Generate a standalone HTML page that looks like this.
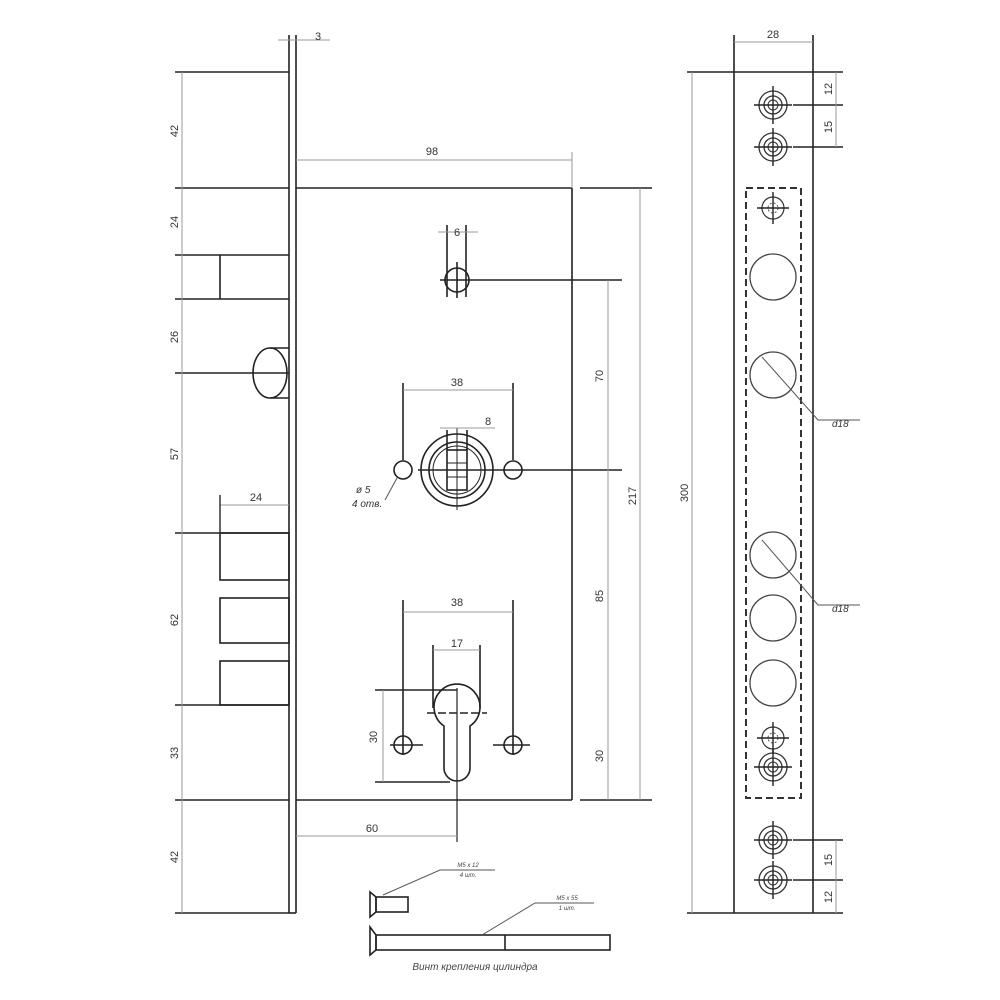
<!DOCTYPE html>
<html><head><meta charset="utf-8"><style>html,body{margin:0;padding:0;background:#fff}svg{display:block}</style></head>
<body>
<svg width="1000" height="1000" viewBox="0 0 1000 1000" xmlns="http://www.w3.org/2000/svg" font-family="Liberation Sans, sans-serif">
<defs>
<g id="cc"><circle r="14" fill="none" stroke="#333" stroke-width="1.3"/><circle r="9" fill="none" stroke="#333" stroke-width="1.3"/><circle r="5" fill="none" stroke="#333" stroke-width="1"/><line x1="-19" y1="0" x2="19" y2="0" stroke="#222" stroke-width="1.4"/><line x1="0" y1="-19" x2="0" y2="19" stroke="#222" stroke-width="1.4"/></g>
<g id="tx"><circle r="11" fill="none" stroke="#333" stroke-width="1.2"/><circle r="5" fill="none" stroke="#555" stroke-width="1" stroke-dasharray="2 2"/><line x1="-16" y1="0" x2="16" y2="0" stroke="#222" stroke-width="1.4"/><line x1="0" y1="-16" x2="0" y2="16" stroke="#222" stroke-width="1.4"/></g>
</defs>
<g stroke="#222" stroke-width="1.6" fill="none">
<line x1="289" y1="35" x2="289" y2="913"/><line x1="296" y1="35" x2="296" y2="913"/>
<line x1="289" y1="913" x2="296" y2="913"/>
<line x1="296" y1="188" x2="572" y2="188"/><line x1="580" y1="188" x2="652" y2="188"/>
<line x1="572" y1="188" x2="572" y2="800"/>
<line x1="296" y1="800" x2="572" y2="800"/><line x1="580" y1="800" x2="652" y2="800"/>
<line x1="175" y1="72" x2="289" y2="72"/>
<line x1="175" y1="188" x2="289" y2="188"/>
<line x1="175" y1="255" x2="289" y2="255"/>
<line x1="175" y1="299" x2="289" y2="299"/>
<line x1="175" y1="373" x2="289" y2="373"/>
<line x1="175" y1="533" x2="289" y2="533"/>
<line x1="175" y1="705" x2="289" y2="705"/>
<line x1="175" y1="800" x2="289" y2="800"/>
<line x1="175" y1="913" x2="289" y2="913"/>
<line x1="220" y1="255" x2="220" y2="299"/>
<ellipse cx="270" cy="373" rx="17" ry="25"/>
<line x1="270" y1="348" x2="289" y2="348"/><line x1="270" y1="398" x2="289" y2="398"/>
<rect x="220" y="533" width="69" height="47"/>
<rect x="220" y="598" width="69" height="45"/>
<rect x="220" y="661" width="69" height="44"/>
<circle cx="457" cy="280" r="12"/>
<line x1="447" y1="225" x2="447" y2="297"/><line x1="466" y1="225" x2="466" y2="297"/>
<line x1="440" y1="280" x2="622" y2="280"/><line x1="457" y1="262" x2="457" y2="298"/>
<circle cx="457" cy="470" r="36"/><circle cx="457" cy="470" r="28"/><circle cx="457" cy="470" r="24" stroke-width="1"/>
<rect x="447" y="450" width="20" height="40"/>
<line x1="447" y1="430" x2="447" y2="450"/><line x1="467" y1="430" x2="467" y2="450"/>
<line x1="447" y1="463" x2="467" y2="463" stroke-width="1"/><line x1="447" y1="477" x2="467" y2="477" stroke-width="1"/><line x1="457" y1="450" x2="457" y2="490" stroke-width="1"/>
<line x1="418" y1="470" x2="622" y2="470"/><line x1="457" y1="428" x2="457" y2="510" stroke-width="1"/>
<line x1="403" y1="383" x2="403" y2="460"/><line x1="513" y1="383" x2="513" y2="460"/>
<circle cx="403" cy="470" r="9"/><circle cx="513" cy="470" r="9"/>
<line x1="403" y1="600" x2="403" y2="755"/><line x1="513" y1="600" x2="513" y2="755"/>
<circle cx="403" cy="745" r="9"/><circle cx="513" cy="745" r="9"/>
<line x1="390" y1="745" x2="423" y2="745"/><line x1="493" y1="745" x2="530" y2="745"/>
<line x1="433" y1="645" x2="433" y2="708"/><line x1="480" y1="645" x2="480" y2="708"/>
<path d="M444 726 A23 23 0 1 1 470 726 L470 768 A13 13 0 0 1 444 768 Z"/>
<line x1="427" y1="713" x2="487" y2="713" stroke-dasharray="8 3"/>
<line x1="457" y1="688" x2="457" y2="842" stroke-width="1.2"/>
<line x1="375" y1="690" x2="457" y2="690"/><line x1="375" y1="782" x2="450" y2="782"/>
<path d="M370 892 L376 897 L376 912 L370 917 Z"/><rect x="376" y="897" width="32" height="15"/>
<path d="M370 927 L376 935 L376 950 L370 955 Z"/><rect x="376" y="935" width="234" height="15"/><line x1="505" y1="935" x2="505" y2="950"/>
<line x1="734" y1="35" x2="734" y2="913"/><line x1="813" y1="35" x2="813" y2="913"/>
<line x1="687" y1="72" x2="843" y2="72"/><line x1="687" y1="913" x2="843" y2="913"/>
<line x1="793" y1="105" x2="843" y2="105"/><line x1="793" y1="147" x2="843" y2="147"/>
<line x1="793" y1="840" x2="843" y2="840"/><line x1="793" y1="880" x2="843" y2="880"/>
</g>
<g stroke="#444" stroke-width="1.3" fill="none">
<circle cx="773" cy="277" r="23"/><circle cx="773" cy="375" r="23"/>
<circle cx="773" cy="555" r="23"/><circle cx="773" cy="618" r="23"/><circle cx="773" cy="683" r="23"/>
</g>
<rect x="746" y="188" width="55" height="610" fill="none" stroke="#333" stroke-width="2" stroke-dasharray="7 4"/>
<use href="#cc" x="773" y="105"/><use href="#cc" x="773" y="147"/>
<use href="#tx" x="773" y="208"/><use href="#tx" x="773" y="738"/>
<use href="#cc" x="773" y="767"/><use href="#cc" x="773" y="840"/><use href="#cc" x="773" y="880"/>
<g stroke="#999" stroke-width="1" fill="none">
<line x1="182" y1="72" x2="182" y2="913"/>
<line x1="278" y1="40" x2="330" y2="40"/>
<line x1="296" y1="160" x2="572" y2="160"/><line x1="572" y1="152" x2="572" y2="188"/>
<line x1="438" y1="232" x2="478" y2="232"/>
<line x1="403" y1="390" x2="513" y2="390"/>
<line x1="440" y1="428" x2="495" y2="428"/>
<line x1="608" y1="280" x2="608" y2="800"/>
<line x1="640" y1="188" x2="640" y2="800"/>
<line x1="220" y1="505" x2="289" y2="505"/><line x1="220" y1="495" x2="220" y2="533" stroke="#333" stroke-width="1.5"/>
<line x1="403" y1="612" x2="513" y2="612"/>
<line x1="433" y1="650" x2="480" y2="650"/>
<line x1="383" y1="690" x2="383" y2="782"/>
<line x1="296" y1="836" x2="457" y2="836"/>
<line x1="692" y1="72" x2="692" y2="913"/>
<line x1="734" y1="42" x2="813" y2="42"/>
<line x1="836" y1="72" x2="836" y2="147"/>
<line x1="836" y1="840" x2="836" y2="913"/>
</g>
<g stroke="#555" stroke-width="1" fill="none">
<polyline points="385,500 397,478"/>
<polyline points="762,357 818,420 860,420"/>
<polyline points="762,540 818,605 860,605"/>
<polyline points="383,895 440,870 495,870"/>
<polyline points="482,935 535,903 594,903"/>
</g>
<g font-size="11" fill="#333" text-anchor="middle">
<text x="318" y="40">3</text>
<text x="432" y="155">98</text>
<text x="457" y="236">6</text>
<text x="457" y="386">38</text>
<text x="488" y="425">8</text>
<text x="256" y="501">24</text>
<text x="457" y="606">38</text>
<text x="457" y="647">17</text>
<text x="372" y="832">60</text>
<text x="773" y="38">28</text>
<text transform="translate(178,131) rotate(-90)">42</text>
<text transform="translate(178,222) rotate(-90)">24</text>
<text transform="translate(178,337) rotate(-90)">26</text>
<text transform="translate(178,454) rotate(-90)">57</text>
<text transform="translate(178,620) rotate(-90)">62</text>
<text transform="translate(178,753) rotate(-90)">33</text>
<text transform="translate(178,857) rotate(-90)">42</text>
<text transform="translate(603,376) rotate(-90)">70</text>
<text transform="translate(603,596) rotate(-90)">85</text>
<text transform="translate(603,756) rotate(-90)">30</text>
<text transform="translate(636,496) rotate(-90)">217</text>
<text transform="translate(377,737) rotate(-90)">30</text>
<text transform="translate(688,493) rotate(-90)">300</text>
<text transform="translate(832,89) rotate(-90)">12</text>
<text transform="translate(832,127) rotate(-90)">15</text>
<text transform="translate(832,860) rotate(-90)">15</text>
<text transform="translate(832,897) rotate(-90)">12</text>
</g>
<g font-size="10" fill="#333" font-style="italic">
<text x="832" y="427">d18</text><text x="832" y="612">d18</text>
<text x="356" y="493">ø 5</text><text x="352" y="507">4 отв.</text>
</g>
<g font-size="6" fill="#444" font-style="italic" text-anchor="middle">
<text x="468" y="867">M5 x 12</text><text x="468" y="877">4 шт.</text>
<text x="567" y="900">M5 x 55</text><text x="567" y="910">1 шт.</text>
</g>
<text x="475" y="970" font-size="10" fill="#444" font-style="italic" text-anchor="middle">Винт крепления цилиндра</text>
</svg>
</body></html>
